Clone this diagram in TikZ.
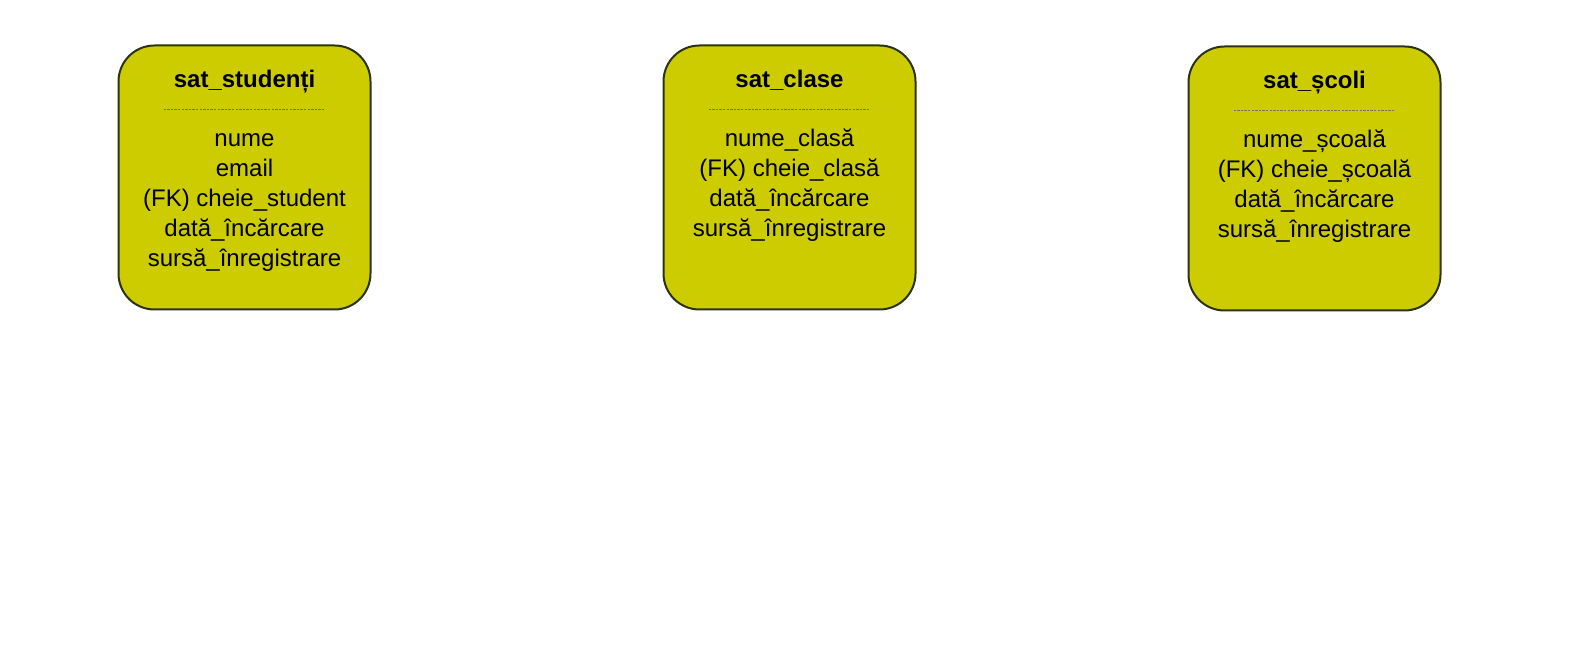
\documentclass[tikz,border=0pt]{standalone}
\usepackage{fontspec}
\setmainfont{Liberation Sans}
\definecolor{satfill}{HTML}{CCCC00}
\definecolor{satedge}{HTML}{2B3316}

\def\satent#1#2#3#4#5{%
\node[satbox] (#1) at (#2,#3+132.5) {};
\node[sattitle] (#1-title) at (#2,#3+42.3) {#4};
\coordinate (#1-rl) at (#2-81,#3+64);
\coordinate (#1-rr) at (#2+81,#3+64);
\draw[satrule] (#1-rl) -- (#1-rr);
\foreach \fld [count=\i] in {#5}
  \node[satfield] (#1-f\i) at (#2,#3+71.7+30*\i) {\fld};
}

\begin{document}
\begin{tikzpicture}[
x=0.5pt, y=-0.5pt,
satbox/.style={draw=satedge, fill=satfill, line width=1pt, rounded corners=18pt, minimum width=126pt, minimum height=132pt, inner sep=0pt},
sattitle/.style={anchor=base, inner sep=0pt, font=\bfseries\fontsize{12}{15}\selectfont},
satfield/.style={anchor=base, inner sep=0pt, font=\fontsize{12}{15}\selectfont},
satrule/.style={draw=gray!90!black, line width=0.4pt, dash pattern=on 1.2pt off 0.6pt},
]
\useasboundingbox (0,0) rectangle (1577,656);

% Satellites:
\satent{stud}{244.5}{45}{sat\_studenți}{nume, email, (FK) cheie\_student, dată\_încărcare, sursă\_înregistrare}
\satent{clase}{789.5}{45}{sat\_clase}{nume\_clasă, (FK) cheie\_clasă, dată\_încărcare, sursă\_înregistrare}
\satent{scoli}{1314.5}{46}{sat\_școli}{nume\_școală, (FK) cheie\_școală, dată\_încărcare, sursă\_înregistrare}
\end{tikzpicture}
\end{document}
